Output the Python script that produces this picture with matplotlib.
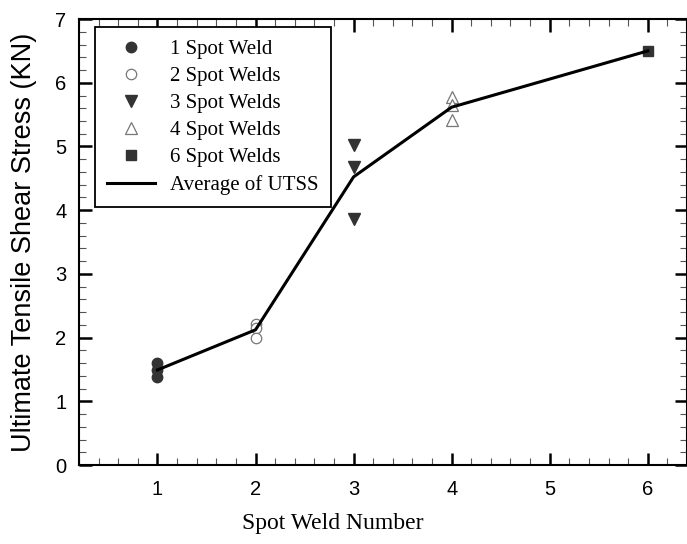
import numpy as np
import matplotlib.pyplot as plt
from matplotlib.ticker import MultipleLocator

# tensile shear results per number of spot welds
welds_1 = [1.60, 1.50, 1.38]
welds_2 = [2.22, 2.15, 2.00]
welds_3 = [5.02, 4.68, 3.87]
welds_4 = [5.78, 5.65, 5.42]
welds_6 = [6.50]

spot_numbers = [1, 2, 3, 4, 6]
groups = [welds_1, welds_2, welds_3, welds_4, welds_6]
labels = ['1 Spot Weld', '2 Spot Welds', '3 Spot Welds', '4 Spot Welds', '6 Spot Welds']

dark = '#333333'
styles = [
    dict(marker='o', mfc=dark, mec=dark, ms=7.5),
    dict(marker='o', mfc='white', mec='#777777', ms=7.5, mew=0.9),
    dict(marker='v', mfc=dark, mec=dark, ms=8),
    dict(marker='^', mfc='white', mec='#777777', ms=8, mew=0.9),
    dict(marker='s', mfc=dark, mec=dark, ms=7),
]

fig = plt.figure(figsize=(6.87, 5.44), dpi=100)
ax = fig.add_axes([0.115, 0.145, 0.885, 0.82])

for n, vals, lab, st in zip(spot_numbers, groups, labels, styles):
    ax.plot([n] * len(vals), vals, linestyle='none', label=lab, zorder=3, **st)

avg = [np.mean(g) for g in groups]
ax.plot(spot_numbers, avg, color='black', lw=2.2, label='Average of UTSS', zorder=4)

ax.set_xlim(0.2, 6.4)
ax.set_ylim(0, 7)
ax.set_xticks([1, 2, 3, 4, 5, 6])
ax.set_yticks(range(8))
ax.xaxis.set_minor_locator(MultipleLocator(0.2))
ax.yaxis.set_minor_locator(MultipleLocator(0.2))
ax.tick_params(which='both', direction='in', top=True, right=True)
ax.tick_params(which='major', length=9, width=1.8, labelsize=14.5)
ax.tick_params(axis='x', which='major', pad=11)
ax.tick_params(axis='y', which='major', pad=9)
ax.tick_params(which='minor', length=5, width=0.8, color='#555555')
for lab in ax.get_xticklabels() + ax.get_yticklabels():
    lab.set_family('Liberation Sans')
for s in ax.spines.values():
    s.set_linewidth(1.5)

ax.set_xlabel('Spot Weld Number', family='Liberation Serif', fontsize=17)
ax.xaxis.set_label_coords(0.418, -0.108)
ax.set_ylabel('Ultimate Tensile Shear Stress (KN)', family='Liberation Sans', fontsize=19.5)
ax.yaxis.set_label_coords(-0.069, 0.5)

leg = ax.legend(loc='upper left', bbox_to_anchor=(0.026, 0.982), borderaxespad=0,
                prop={'family': 'Liberation Serif', 'size': 15}, fancybox=False,
                edgecolor='black', framealpha=1, labelspacing=0.36, handlelength=2.3,
                handletextpad=0.7, borderpad=0.6)
leg.get_frame().set_linewidth(1.3)

fig.savefig('out.png', dpi=100)
